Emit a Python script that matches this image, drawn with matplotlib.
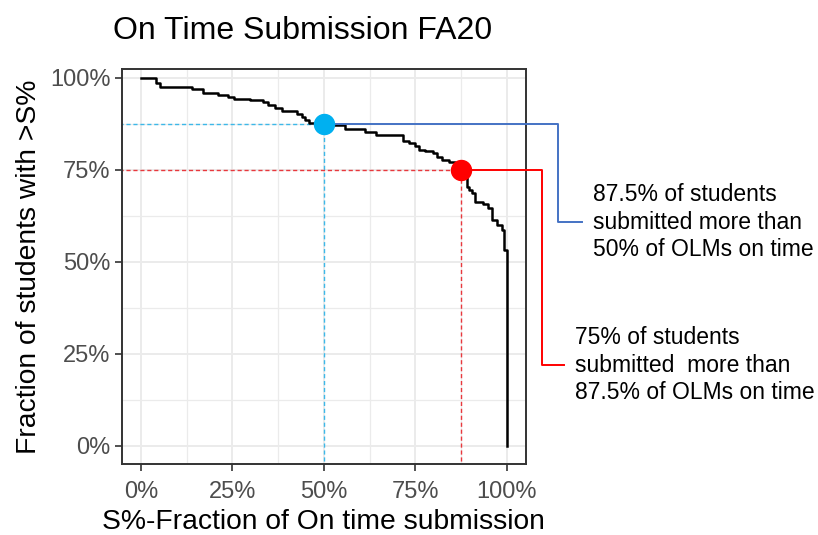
import matplotlib
matplotlib.use("Agg")
import matplotlib.pyplot as plt
from matplotlib.ticker import PercentFormatter, MultipleLocator

plt.rcParams["font.family"] = ["Liberation Sans", "DejaVu Sans"]

# step curve: fraction of students (y) with on-time fraction above S% (x)
s_frac = [0.0, 0.041, 0.053, 0.141, 0.171, 0.212, 0.239, 0.256, 0.298, 0.335,
          0.348, 0.367, 0.385, 0.426, 0.439, 0.449, 0.460, 0.526, 0.558, 0.612,
          0.642, 0.717, 0.733, 0.749, 0.761, 0.776, 0.797, 0.808, 0.824, 0.842,
          0.858, 0.875, 0.890, 0.897, 0.904, 0.913, 0.935, 0.949, 0.958, 0.972,
          0.986, 0.992, 1.0]
students = [1.0, 0.986, 0.976, 0.970, 0.959, 0.954, 0.948, 0.943, 0.939, 0.933,
            0.927, 0.917, 0.909, 0.901, 0.894, 0.885, 0.876, 0.871, 0.862, 0.853,
            0.844, 0.829, 0.822, 0.814, 0.805, 0.800, 0.795, 0.785, 0.776, 0.772,
            0.763, 0.750, 0.704, 0.695, 0.686, 0.663, 0.656, 0.645, 0.613, 0.600,
            0.587, 0.532, 0.0]

ticks = [0, 0.25, 0.5, 0.75, 1.0]

# highlighted points
blue_pt = (0.5, 0.875)
red_pt = (0.875, 0.75)
blue_note = "87.5% of students\nsubmitted more than\n50% of OLMs on time"
red_note = "75% of students\nsubmitted  more than\n87.5% of OLMs on time"

fig = plt.figure(figsize=(8.18, 5.35), dpi=100)
ax = fig.add_axes([0.1488, 0.1327, 0.4942, 0.7383])

ax.step(s_frac, students, where="post", color="black", lw=1.8, zorder=3)

# guides to the points
ax.plot([-0.06, blue_pt[0]], [blue_pt[1]] * 2, ls=(0, (3, 2)), color="#3DB8E8", lw=1.0, zorder=2)
ax.plot([blue_pt[0]] * 2, [-0.06, blue_pt[1]], ls=(0, (3, 2)), color="#3DB8E8", lw=1.0, zorder=2)
ax.plot([-0.06, red_pt[0]], [red_pt[1]] * 2, ls=(0, (3, 2)), color="#E8383D", lw=1.0, zorder=2)
ax.plot([red_pt[0]] * 2, [-0.06, red_pt[1]], ls=(0, (3, 2)), color="#E8383D", lw=1.0, zorder=2)

# callout connectors (run outside the panel)
ax.plot([blue_pt[0], 1.139, 1.139, 1.204], [0.875, 0.875, 0.607, 0.607],
        color="#4472C4", lw=1.4, clip_on=False, zorder=4)
ax.plot([red_pt[0], 1.096, 1.096, 1.156], [0.75, 0.75, 0.219, 0.219],
        color="#FF0000", lw=1.4, clip_on=False, zorder=4)

ax.plot(*blue_pt, "o", ms=14.4, color="#00B0F0", zorder=5, clip_on=False)
ax.plot(*red_pt, "o", ms=14.4, color="#FF0000", zorder=5, clip_on=False)

ax.text(1.235, 0.607, blue_note, fontsize=16.5, va="center", ha="left",
        linespacing=1.25, transform=ax.transData, clip_on=False)
ax.text(1.187, 0.219, red_note, fontsize=16.5, va="center", ha="left",
        linespacing=1.25, transform=ax.transData, clip_on=False)

ax.set_xlim(-0.052, 1.052)
ax.set_ylim(-0.05, 1.024)
ax.set_xticks(ticks)
ax.set_yticks(ticks)
ax.xaxis.set_minor_locator(MultipleLocator(0.125))
ax.yaxis.set_minor_locator(MultipleLocator(0.125))
ax.xaxis.set_major_formatter(PercentFormatter(1.0, decimals=0))
ax.yaxis.set_major_formatter(PercentFormatter(1.0, decimals=0))
ax.grid(which="major", color="#EBEBEB", lw=1.4)
ax.grid(which="minor", color="#EBEBEB", lw=0.9)
ax.set_axisbelow(True)
ax.tick_params(which="major", length=5, width=1.2, color="#333333",
               labelcolor="#4D4D4D", labelsize=17, pad=3)
ax.tick_params(axis="x", which="major", pad=7.5)
ax.tick_params(which="minor", length=0)
for sp in ax.spines.values():
    sp.set_color("#333333")
    sp.set_linewidth(1.4)

ax.set_xlabel("S%-Fraction of On time submission", fontsize=20.3, labelpad=4)
ax.set_ylabel("Fraction of students with >S%", fontsize=20.3, labelpad=6)
fig.text(303 / 818, 1 - 31 / 535, "On Time Submission FA20", fontsize=23,
         ha="center", va="center")

fig.savefig("out.png", dpi=100)
